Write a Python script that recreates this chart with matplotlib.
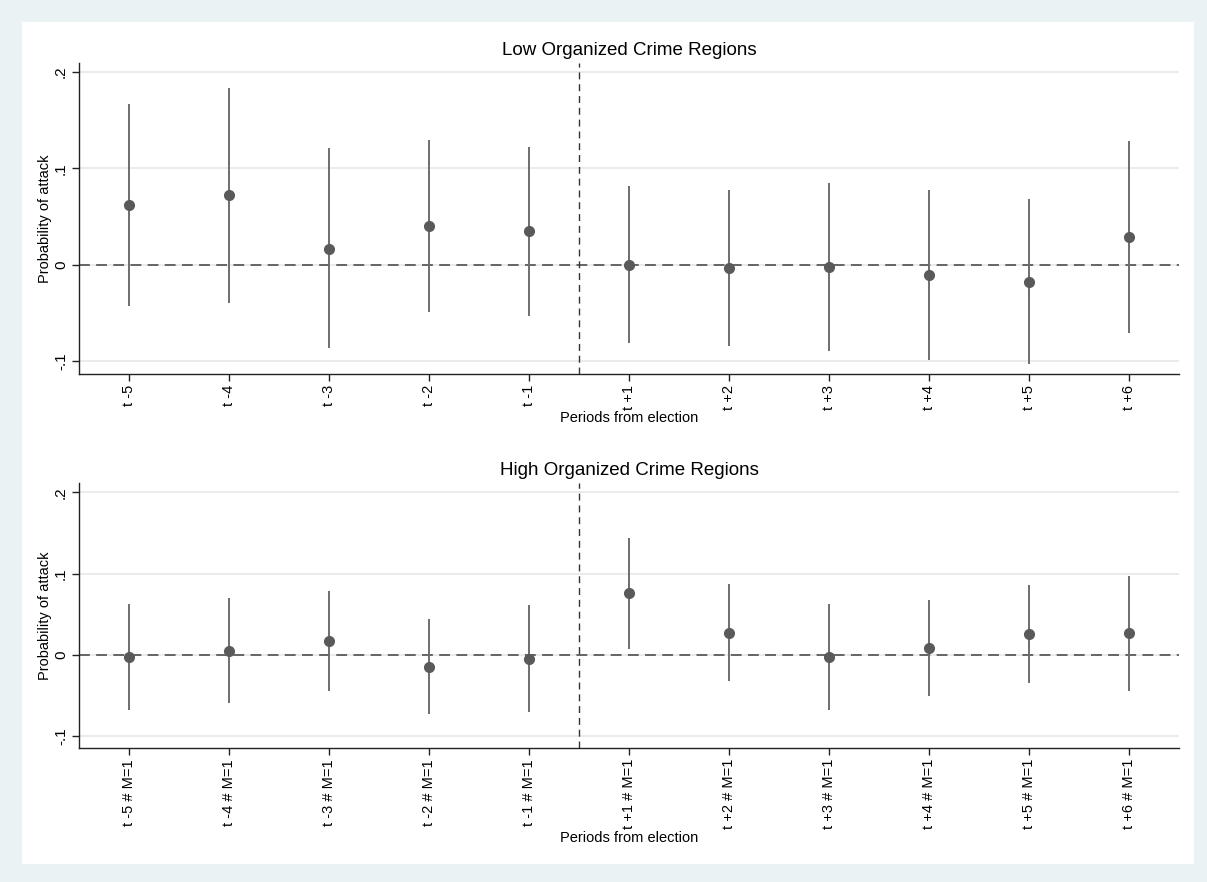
import matplotlib
matplotlib.use("Agg")
import matplotlib.pyplot as plt

plt.rcParams['font.family'] = ['Liberation Sans', 'DejaVu Sans']

# ---- data ----
low_labels = ["t -5", "t -4", "t -3", "t -2", "t -1", "t +1", "t +2", "t +3", "t +4", "t +5", "t +6"]
high_labels = [l + " # M=1" for l in low_labels]

low_est = [0.062, 0.072, 0.017, 0.0405, 0.035, 0.000, -0.0035, -0.002, -0.0105, -0.0175, 0.029]
low_hi = [0.167, 0.183, 0.121, 0.1295, 0.122, 0.082, 0.078, 0.0845, 0.0775, 0.068, 0.1285]
low_lo = [-0.0425, -0.039, -0.0865, -0.0485, -0.0525, -0.081, -0.0845, -0.089, -0.0985, -0.103, -0.070]

high_est = [-0.003, 0.005, 0.017, -0.015, -0.005, 0.0758, 0.0272, -0.0025, 0.0083, 0.0252, 0.0264]
high_hi = [0.0626, 0.0696, 0.079, 0.0442, 0.061, 0.1437, 0.0877, 0.0626, 0.0675, 0.0857, 0.0975]
high_lo = [-0.0674, -0.059, -0.0444, -0.0732, -0.071, 0.0074, -0.0325, -0.0674, -0.051, -0.0353, -0.0444]

yticks = [-0.1, 0.0, 0.1, 0.2]
ytick_labels = ["-.1", "0", ".1", ".2"]

titles = ["Low Organized Crime Regions", "High Organized Crime Regions"]

W, H = 1207, 882
fig = plt.figure(figsize=(W / 100, H / 100), dpi=100)
fig.patch.set_facecolor("#EAF2F3")
# white inner plot region
fig.patches.append(plt.Rectangle((22 / W, 1 - 864 / H), (1194 - 22) / W, (864 - 22) / H,
                                 transform=fig.transFigure, facecolor="white",
                                 edgecolor="none", zorder=-10))

def px_axes(l, t, r, b):
    return [l / W, 1 - b / H, (r - l) / W, (b - t) / H]

ax1 = fig.add_axes(px_axes(79, 63, 1179, 374))
ax2 = fig.add_axes(px_axes(79, 483, 1179, 748))

panels = [
    (ax1, low_labels, low_est, low_lo, low_hi, (-0.113, 0.2093)),
    (ax2, high_labels, high_est, high_lo, high_hi, (-0.1148, 0.2116)),
]

for i, (ax, labels, est, lo, hi, ylim) in enumerate(panels):
    x = list(range(len(labels)))
    ax.set_facecolor("white")
    ax.set_xlim(-0.5, len(labels) - 0.5)
    ax.set_ylim(*ylim)
    ax.set_yticks(yticks)
    ax.set_yticklabels(ytick_labels, rotation=90, va="center", fontsize=11)
    ax.set_xticks(x)
    ax.set_xticklabels(labels, rotation=90, fontsize=10.5)
    ax.grid(axis="y", color="#E8E8E8", linewidth=1.2, zorder=0)
    ax.set_axisbelow(True)
    for s in ["top", "right"]:
        ax.spines[s].set_visible(False)
    for s in ["left", "bottom"]:
        ax.spines[s].set_color("#222222")
        ax.spines[s].set_linewidth(1.0)
    ax.tick_params(axis="both", direction="out", length=5, width=1, color="#222222", pad=3)
    ax.axhline(0, color="#5a5a5a", linestyle=(0, (6, 3.5)), linewidth=1.3, zorder=1)
    ax.axvline(4.5, color="#333333", linestyle=(0, (5, 3.5)), linewidth=1.0, zorder=1)
    ax.vlines(x, lo, hi, color="#6e6e6e", linewidth=1.4, zorder=2)
    ax.plot(x, est, "o", color="#5a5a5a", markersize=7, zorder=3)
    ax.set_ylabel("Probability of attack", fontsize=10.5, labelpad=1)
    ax.set_xlabel("Periods from election", fontsize=10.5, labelpad=1)
    ax.set_title(titles[i], fontsize=13.5, pad=6)

fig.savefig("out.png", dpi=100, facecolor=fig.get_facecolor())
